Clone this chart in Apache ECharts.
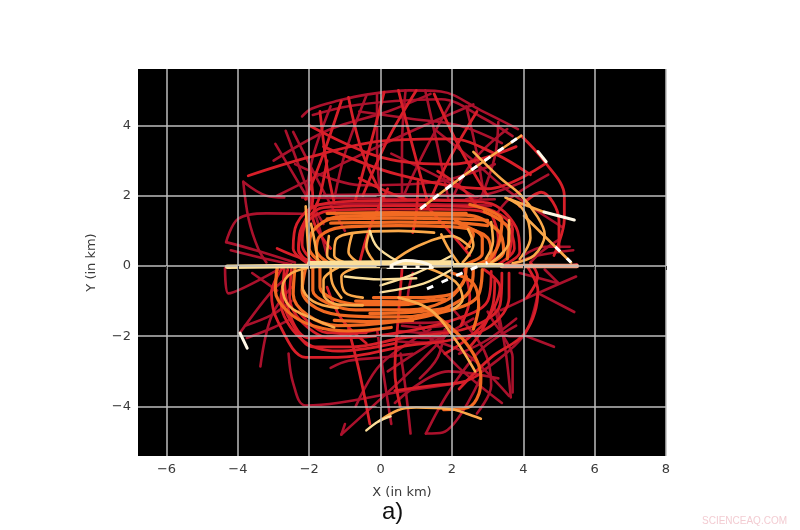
<!DOCTYPE html>
<html>
<head>
<meta charset="utf-8">
<style>html,body{margin:0;background:#fff}#chart{width:800px;height:530px}</style>
<script src="https://cdn.jsdelivr.net/npm/echarts@6/dist/echarts.min.js"></script>
</head>
<body>
<div id="chart"></div>
<script>
var xTicks = [-6, -4, -2, 0, 2, 4, 6, 8];
var yTicks = [-4, -2, 0, 2, 4];

// tracks by colour, coldest first, points in km
var crimsonTracks = [
  [[-2.2,4.26],[-1.94,4.48],[-1.18,4.71],[-0.4,4.88],[0.8,5.0],[1.69,4.97],[2.81,4.43],[3.85,3.9]],
  [[-1.9,4.3],[-0.9,4.55],[0.4,4.7],[1.7,4.75],[2.9,4.2],[3.7,3.7]],
  [[-3.85,2.4],[-3.7,1.34],[-3.43,0.49],[-3.2,0.1]],
  [[-3.85,2.4],[-3.2,2.0],[-2.7,1.95]],
  [[-4.33,0.68],[-4,1.34],[-3.2,1.5],[-2.2,1.49]],
  [[-4.33,0.68],[-3.5,0.45],[-2.4,0.1]],
  [[-4.2,0.45],[-3.2,0.2],[-2.5,0.05]],
  [[-2.66,3.85],[-1.94,1.83],[-1.5,0.3]],
  [[-2.95,3.48],[-2.2,2.2],[-1.6,1.2]],
  [[-2.45,3.82],[-1.74,2.4],[-1.0,1.0]],
  [[-1.4,4.55],[-1.9,3.1],[-2.1,1.9]],
  [[-0.4,4.85],[-1.0,3.2],[-1.3,1.9]],
  [[-0.1,4.9],[-0.1,3.4],[0.0,1.9]],
  [[0.7,5.0],[0.6,3.4],[0.6,1.9]],
  [[1.25,5.0],[1.6,3.4],[1.9,1.9]],
  [[2.0,4.7],[1.2,3.2],[0.6,1.9]],
  [[2.4,4.55],[2.7,3.2],[2.9,2.0]],
  [[3.3,4.1],[3.2,3.1],[2.8,1.9]],
  [[3.55,3.9],[2.6,3.0],[2.0,1.9]],
  [[-2.9,2.0],[-1,2.95],[1,3.9],[2.6,4.6]],
  [[-3.0,3.0],[-1.4,3.9],[0.2,4.4],[1.4,4.9]],
  [[-2.4,2.9],[-0.5,2.3],[1.6,2.4],[3.2,2.9]],
  [[-0.6,4.4],[0.8,4.2],[2.2,4.0],[3.4,3.5]],
  [[-2.2,1.95],[-1,1.93],[1,1.9],[2.4,1.88],[3.2,1.9]],
  [[-1.8,1.75],[0,1.78],[2,1.75],[3.1,1.72]],
  [[-1.6,2.02],[0.5,2.04],[2.6,2.0]],
  [[1.5,3.9],[2.6,3],[3.5,2.2],[5.1,1.1]],
  [[0.3,3.2],[1.5,2.6],[2.6,2.0]],
  [[4.0,2.4],[3.2,2.1],[2.4,1.9]],
  [[4.7,2.6],[3.6,1.9],[3.2,1.4]],
  [[5.3,0.55],[4.6,0.55],[4,0.3]],
  [[5.4,0.45],[4.4,0.3],[3.8,0.1]],
  [[5.0,0.75],[4.5,0.4],[4.2,0.1]],
  [[5.48,-0.3],[4.4,-0.78],[3.37,-1.26]],
  [[4.41,-0.77],[5.43,-1.31]],
  [[4.02,-1.97],[4.86,-2.3]],
  [[3.29,-1.26],[3.5,-2.4],[3.65,-3.74]],
  [[4.41,-0.77],[4.02,-1.97],[2.81,-3.03]],
  [[3.0,-1.3],[3.6,-2.0],[4.0,-2.0]],
  [[4.2,0.0],[5.3,0.02],[5.5,0.05]],
  [[4.6,-0.1],[5.0,-0.5],[3.9,-0.2]],
  [[-2.58,-2.49],[-2.45,-3.34],[-2.1,-3.97],[0.8,-3.54],[2.33,-3.31]],
  [[-1.1,-4.8],[0.8,-3.03],[2,-1.8]],
  [[-1.1,-4.8],[-1.0,-4.5]],
  [[-3.37,-2.86],[-3.06,-1.43],[-2.5,-0.6]],
  [[-3.94,-1.9],[-3.1,-0.78],[-2.6,-0.3]],
  [[-3.8,-1.7],[-3.06,-1.4],[-2.5,-1.0]],
  [[-3.75,-2.05],[-3.0,-1.75],[-2.5,-1.5]],
  [[-4.36,-0.06],[-4.27,-0.78],[-2.87,-0.1]],
  [[-2.9,-0.7],[-3.6,-0.2]],
  [[0.84,-4.77],[0.7,-3.5],[0.56,-2.49]],
  [[1.27,-4.77],[1.74,-4.74],[2.81,-3.17]],
  [[1.27,-4.77],[1.9,-3.6],[2.8,-2.4],[3.8,-1.7]],
  [[0.3,-4.5],[0.1,-3.2],[-0.1,-1.8]],
  [[-0.7,-4],[0,-2.8],[1.4,-1.8]],
  [[0.6,-1.7],[1.2,-1.75],[1.8,-1.7]],
  [[0.5,-1.85],[1.2,-1.9],[1.9,-1.85]],
  [[0.6,-2.0],[1.3,-2.05],[1.8,-2.0]],
  [[0.45,-1.6],[1.2,-1.62],[1.9,-1.58]],
  [[0.5,-2.15],[1.2,-2.18],[1.7,-2.12]],
  [[1.1,-1.7],[2.2,-2.9],[3.4,-3.9]],
  [[1.4,-2.1],[2.4,-2.5],[3.6,-3.7]],
  [[0.4,-3.9],[1.9,-3.0],[3.3,-3.2]],
  [[2,-1.2],[2.9,-2.4],[3.1,-3.4],[2.7,-4.2]],
  [[3.2,-1.2],[3.4,-1.9],[3.7,-2.6],[3.7,-3.6]],
  [[0.9,-0.2],[0.8,-0.6],[0.75,-1.0]],
  [[-1.4,-2.9],[-0.9,-2.7],[0.1,-2.6],[0.9,-2.5]],
  [[0.2,-3.0],[1.1,-2.4],[2.6,-1.5]],
  [[1.1,-3.2],[1.6,-2.6],[1.8,-1.8]],
  [[2.2,-2.5],[3,-2.1],[3.8,-1.5]]
];

var redTracks = [
  [[-3.71,2.57],[-2,3.1],[0.14,3.57],[2,3.62],[3.2,3.2],[4.2,2.6]],
  [[-2,2.9],[-1.9,1.9],[-2.15,1.2],[-2.3,0.5],[-2.0,0.05]],
  [[-1.5,3],[-1.7,2],[-1.9,1.4],[-1.4,0.5]],
  [[-1.7,4.4],[-1.5,2.8],[-1.3,1.8]],
  [[-1.1,4.7],[-1.6,3.2],[-2.1,1.9]],
  [[-0.9,4.8],[-0.5,3.2],[0.1,1.9]],
  [[0.1,4.95],[-0.3,3.4],[-0.7,1.9]],
  [[0.5,5.0],[0.9,3.4],[1.3,1.9]],
  [[1.0,5.0],[0.2,3.6],[-0.5,2.0]],
  [[1.5,4.9],[2.2,3.4],[3,2.0]],
  [[2.7,4.4],[1.9,3.0],[1.4,1.9]],
  [[-1.6,3.4],[0.5,2.6],[3,2.2],[4.6,2.9]],
  [[-2.0,4.0],[0,3.1],[2,2.9],[3.8,3.4]],
  [[-2.0,0.05],[-2.45,0.5],[-2.35,1.2],[-1.8,1.72],[-0.5,1.85],[1.5,1.87],[3,1.8],[3.8,1.1],[3.9,0.4],[3.5,0.05]],
  [[-1.8,0.05],[-2.2,0.6],[-2.1,1.2],[-1.4,1.58],[0.5,1.62],[2.5,1.6],[3.5,1.2],[3.75,0.5],[3.3,0.05]],
  [[-1.9,0.05],[-2.3,0.45],[-2.25,1.0],[-1.6,1.66],[0.4,1.72],[2.7,1.68],[3.7,1.05],[3.6,0.3]],
  [[-2.9,0.5],[-2.3,0.25],[-1.7,0.1]],
  [[-0.6,0.05],[-0.3,1.1],[0.2,2.2]],
  [[1.3,1.7],[2.0,0.9],[2.5,0.3]],
  [[3.1,1.5],[3.3,0.8],[3.1,0.05]],
  [[0.9,0.95],[1.0,1.5],[1.05,2.4]],
  [[-0.6,2.5],[0,2.2],[0.7,1.9]],
  [[1.6,2.7],[2.3,2.2],[2.7,1.7]],
  [[-2.75,-0.05],[-3.06,-0.77],[-2.87,-1.6],[-2.1,-2.6],[-1.2,-2.6],[0.8,-2.26],[2,-2.1],[3.1,-1.7],[3.6,-0.9],[3.6,-0.2]],
  [[-2.7,-0.1],[-2.75,-0.9],[-2.5,-1.6],[-1.9,-2.3],[-0.8,-2.3],[0.6,-2.05],[2.5,-1.75],[3.35,-1.1],[3.4,-0.2]],
  [[-2.6,-0.1],[-2.8,-1.0],[-2.2,-2.1],[-1.2,-2.42],[0.4,-2.2]],
  [[-2.5,-0.1],[-2.55,-0.9],[-2.2,-1.6],[-1.4,-2.05],[0.2,-1.95],[2,-1.55],[3.0,-1.0],[3.1,-0.15]],
  [[-2.7,-0.4],[-2.5,-1.5],[-2,-2.05],[0,-1.8]],
  [[-2.3,-1.3],[-1.5,-1.9],[-0.4,-1.9]],
  [[-1.5,-0.6],[-1.1,-1.5],[-0.4,-2.2]],
  [[4.1,-0.9],[4.4,-0.3],[4.2,0.1]],
  [[4.1,0],[4.41,-0.7],[4.05,-1.9],[3.1,-2.6],[2.2,-3.5]],
  [[3.2,-0.4],[3.15,-1.1],[2.8,-1.9],[2.5,-2.3]],
  [[2.9,-0.1],[3.35,-0.6],[3.0,-1.5],[2.4,-2.1],[1.8,-2.5]],
  [[2.35,-0.1],[2.5,-0.9],[2.25,-1.7]],
  [[0.6,-0.1],[0.5,-1.4],[0.4,-3.0],[0.55,-4.0]],
  [[-0.9,-1.8],[-0.6,-3],[-0.3,-4.5]],
  [[0.4,-3.55],[1.5,-3.4],[2.3,-3.3],[2.75,-3.1]],
  [[3.9,1.7],[4.5,2.1],[5.0,1.3],[5.0,0.4]],
  [[3.94,3.71],[4.6,2.97],[5.15,2.0],[5.15,1.34],[4.86,0.3]]
];

var orangeTracks = [
  [[-1.6,0.05],[-2.0,0.5],[-1.9,1.0],[-1.2,1.4],[0.5,1.45],[2.4,1.45],[3.3,1.0],[3.45,0.4],[3.0,0.05]],
  [[-1.5,1.34],[0.4,1.36],[2.2,1.34],[3.0,1.3]],
  [[-1.4,1.22],[0.5,1.25],[2.2,1.22],[3.0,1.15]],
  [[-1.5,1.5],[0.4,1.52],[2.4,1.5]],
  [[-1.4,0.05],[-1.8,0.45],[-1.7,0.85],[-1.1,1.1],[0.5,1.15],[2.2,1.1],[3.0,0.8],[3.1,0.3],[2.7,0.05]],
  [[2.5,1.75],[3.4,1.3],[3.3,0.6],[3.0,0.1]],
  [[2.2,1.2],[2.85,0.8],[2.85,0.35],[2.4,0.06]],
  [[2.9,1.55],[3.6,1.0],[3.55,0.2]],
  [[2.4,0.5],[2.6,0.9],[2.1,1.3]],
  [[-2.9,-0.05],[-2.95,-0.7],[-2.6,-1.3],[-1.9,-1.7],[-0.9,-1.85],[0.3,-1.75]],
  [[-2.4,-0.05],[-2.45,-0.8],[-2.05,-1.4],[-1.2,-1.7],[0.3,-1.6],[1.6,-1.35],[2.7,-0.9],[2.85,-0.1]],
  [[-2.1,-0.05],[-2.2,-0.7],[-1.8,-1.2],[-0.9,-1.42],[0.6,-1.45],[1.8,-1.2],[2.5,-0.7],[2.6,-0.05]],
  [[-1.9,-0.05],[-1.9,-0.7],[-1.5,-1.05],[-0.7,-1.25],[0.8,-1.25],[1.8,-1],[2.3,-0.5],[2.4,-0.05]],
  [[-1.7,-0.05],[-1.7,-0.6],[-1.3,-0.95],[-0.5,-1.1],[0.6,-1.1],[1.5,-0.95]],
  [[-1.3,-1.55],[-0.4,-1.58],[0.9,-1.55]],
  [[-0.7,-1.0],[0.8,-1.02],[1.8,-0.95]],
  [[-0.2,-0.9],[1,-0.9],[2,-0.8],[2.4,-0.3]],
  [[-0.3,-1.35],[0.7,-1.33],[1.9,-1.2]],
  [[1.4,-1.3],[2.4,-2.2],[2.81,-3.17],[2.76,-3.63],[2.45,-4.03],[1.77,-4.09]],
  [[2.0,-0.2],[2.6,-0.5],[2.75,-1.1],[2.6,-1.8]]
];

var amberTracks = [
  [[-1.8,-0.02],[-2.5,-0.2],[-2.75,-0.6],[-2.55,-1.15],[-1.9,-1.5],[-1.3,-1.75]],
  [[-1.2,-0.05],[-1.6,-0.4],[-1.6,-0.8],[-1.2,-1.1],[-0.5,-1.12]],
  [[-2.2,-0.1],[-2.2,-0.55],[-1.9,-1.0],[-1.2,-1.2]],
  [[-0.6,-0.02],[-1.1,-0.3],[-1.0,-0.75],[-0.5,-0.9]],
  [[-1.4,-0.05],[-1.35,-0.5],[-1.1,-0.9]],
  [[-0.75,0.02],[-1.3,0.3],[-1.25,0.75],[-0.7,0.95],[0.5,1.0],[1.5,0.95]],
  [[-1.2,0.1],[-1.5,0.3],[-1.45,0.85]],
  [[-0.55,0.05],[-0.9,0.4],[-0.8,0.9]],
  [[-0.2,0.15],[-0.4,0.55],[-0.3,1.0]],
  [[-2,0.1],[-2.05,0.8],[-2.1,1.7]],
  [[-1.75,0.1],[-1.85,0.7],[-1.95,1.2]],
  [[0.3,0.1],[1,0.55],[2,0.85],[2.5,0.55]],
  [[1.7,0.9],[1.9,0.5],[2.2,0.06]],
  [[2.45,1.05],[2.6,0.6],[2.3,0.1]],
  [[3.1,1.25],[3.15,0.7],[2.95,0.2]],
  [[3.6,1.3],[3.6,0.7],[3.1,0.1]],
  [[2.6,3.25],[3.37,2.49],[3.9,2.05],[4.4,1.4],[4.6,0.9],[4.3,0.3],[3.7,0.08]],
  [[3.5,1.95],[4.0,1.6],[4.2,0.8],[3.9,0.2]],
  [[1.12,1.63],[2.5,2.7],[3.94,3.71]],
  [[3.62,1.9],[4.58,1.54]],
  [[4.02,1.43],[5.34,0.1]],
  [[1.3,-0.05],[2.1,-0.45],[2.3,-0.95],[2,-1.25]],
  [[0.5,-0.9],[1.4,-1.25],[2.1,-2.1],[2.65,-3.0]],
  [[-0.05,-4.42],[0.5,-4.1],[1,-4.03],[2,-4.08],[2.4,-4.2],[2.81,-4.35]]
];

var paleTracks = [
  [[-0.4,-4.68],[-0.05,-4.42],[0.28,-4.28]],
  [[0,-0.55],[1,-0.2],[2,0.3]],
  [[0,-0.75],[1.2,-0.5],[2,-0.1]],
  [[-1.0,-0.3],[0,-0.38],[1,-0.35]],
  [[0.45,0.15],[-0.1,0.55],[-0.3,1]]
];
var bandTracks = [
  [[-4.3,-0.02],[-2,0],[0,0],[2,0.02],[3.4,0.02]],
  [[-2,0.08],[0,0.1],[2,0.1]]
];
var salmonTracks = [
  [[3.4,0.0],[4.2,0.0],[5.5,0.0]]
];

var whiteTracks = [
  [[-3.94,-1.91],[-3.74,-2.34]],
  [[4.41,3.26],[4.64,2.97]],
  [[4.58,1.54],[5.43,1.31]],
  [[0.3,0.02],[0.7,0.16],[1.1,0.12],[1.4,0.02]],
  [[0.2,-0.04],[0.8,-0.04],[1.45,-0.04]]
];
var dashedTracks = [
  [[1.12,1.63],[2.5,2.7],[3.94,3.71]],
  [[4.9,0.55],[5.34,0.1]],
  [[1.3,-0.65],[2.4,-0.15],[3,0.1]]
];
var blackDashes = [
  [[0,-0.02],[0.8,-0.02],[1.45,-0.02]]
];

function addTracks(list, colour, width, extra) {
  return list.map(function (t) {
    return Object.assign({
      type: 'line', data: t, smooth: 0.35, symbol: 'none', silent: true,
      lineStyle: { color: colour, width: width, cap: 'round', join: 'round' }
    }, extra || {});
  });
}
function dashed(list, colour, width, dash, z) {
  var s = addTracks(list, colour, width, { z: z });
  s.forEach(function (e) { e.lineStyle.type = dash; e.lineStyle.cap = 'butt'; });
  return s;
}

var series = [].concat(
  addTracks(crimsonTracks, '#ab112c', 2.6),
  addTracks(redTracks, '#d81f29', 2.8),
  addTracks(orangeTracks, '#f26a22', 3.2),
  addTracks(amberTracks, '#fba94a', 2.6),
  addTracks(salmonTracks, '#f2a283', 4.5),
  addTracks(paleTracks, '#fcdf9a', 2.4),
  addTracks(bandTracks, '#fcdf9a', 4.5),
  addTracks(whiteTracks, '#fff8e6', 3, { z: 6 }),
  dashed(dashedTracks, '#ffffff', 3, [7, 9], 6),
  dashed(blackDashes, '#000000', 2, [9, 4], 7)
);

function fmt(v) { return String(v).replace('-', '\u2212'); }
var tickText = { color: '#3a3a3a', fontSize: 13, fontFamily: 'DejaVu Sans', formatter: fmt, margin: 7 };

var chart = echarts.init(document.getElementById('chart'), null, { renderer: 'canvas' });
chart.setOption({
  animation: false,
  backgroundColor: '#fff',
  grid: { left: 138, top: 69, width: 528, height: 387, show: true, backgroundColor: '#000', borderWidth: 0 },
  xAxis: {
    type: 'value', min: -6.8, max: 8, z: 5,
    name: 'X (in km)', nameLocation: 'middle', nameGap: 30,
    nameTextStyle: { color: '#3a3a3a', fontSize: 13, fontFamily: 'DejaVu Sans' },
    axisLine: { show: false },
    axisTick: { show: true, length: 4, customValues: xTicks, lineStyle: { color: '#333' } },
    axisLabel: Object.assign({ customValues: xTicks }, tickText),
    splitLine: { show: true, lineStyle: { color: '#bcbcbc', width: 1.5 } }
  },
  yAxis: {
    type: 'value', min: -5.41, max: 5.61, z: 5,
    name: 'Y (in km)', nameLocation: 'middle', nameGap: 40, nameRotate: 90,
    nameTextStyle: { color: '#3a3a3a', fontSize: 13, fontFamily: 'DejaVu Sans' },
    axisLine: { show: false },
    axisTick: { show: true, length: 4, customValues: yTicks, lineStyle: { color: '#333' } },
    axisLabel: Object.assign({ customValues: yTicks }, tickText),
    splitLine: { show: true, lineStyle: { color: '#bcbcbc', width: 1.5 } }
  },
  graphic: [
    { type: 'text', left: 382, top: 500, style: { text: 'a)', fill: '#111', font: '24px "Liberation Sans"' } },
    { type: 'text', left: 702, top: 516, style: { text: 'SCIENCEAQ.COM', fill: '#f3ccd2', font: '10px "Liberation Sans"' } }
  ],
  series: series
});
</script>
</body>
</html>
